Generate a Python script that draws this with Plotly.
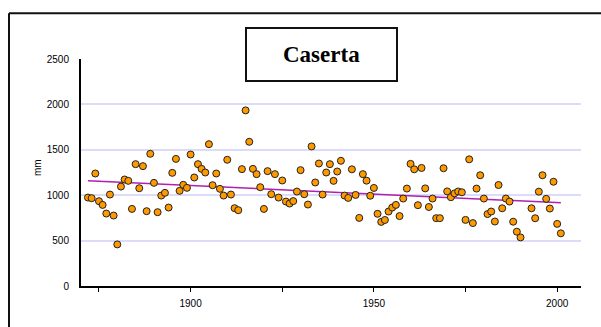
import plotly.graph_objects as go

years = list(range(1872, 1991)) + list(range(1993, 2002))
rain_mm = [
    974, 967, 1239, 934, 893, 798, 1007, 776, 458, 1095,          # 1872-1881
    1173, 1158, 849, 1342, 1077, 1320, 824, 1456, 1136, 813,      # 1882-1891
    996, 1026, 864, 1246, 1400, 1048, 1114, 1081, 1448, 1195,     # 1892-1901
    1342, 1290, 1250, 1562, 1110, 1239, 1070, 996, 1390, 1007,    # 1902-1911
    857, 835, 1287, 1934, 1588, 1290, 1232, 1088, 849, 1265,      # 1912-1921
    1011, 1232, 974, 1162, 930, 908, 935, 1040, 1276, 1011,       # 1922-1931
    897, 1537, 1140, 1349, 1007, 1250, 1342, 1158, 1261, 1379,    # 1932-1941
    996, 970, 1285, 1003, 750, 1232, 1160, 994, 1080, 795,        # 1942-1951
    706, 727, 820, 864, 893, 770, 963, 1073, 1345, 1285,          # 1952-1961
    890, 1300, 1075, 870, 963, 747, 747, 1297, 1042, 978,         # 1962-1971
    1020, 1041, 1032, 728, 1395, 693, 1073, 1220, 963, 792,       # 1972-1981
    820, 710, 1112, 856, 963, 930, 708, 598, 535,                 # 1982-1990
    856, 746, 1039, 1220, 960, 853, 1148, 684, 580,               # 1993-2001
]
trend_years = [1872, 2001]
trend_mm = [1160, 916]

x_tickvals = [1875, 1900, 1925, 1950, 1975, 2000]
x_ticktext = ["", "1900", "", "1950", "", "2000"]
y_tickvals = [0, 500, 1000, 1500, 2000, 2500]
title_text = "Caserta"
y_title = "mm"

fig = go.Figure()
fig.add_trace(go.Scatter(
    x=trend_years, y=trend_mm, mode="lines",
    line=dict(color="#B020B0", width=1.5), hoverinfo="skip", showlegend=False))
fig.add_trace(go.Scatter(
    x=years, y=rain_mm, mode="markers",
    marker=dict(symbol="circle", size=7, color="#FF9900",
                line=dict(color="#222222", width=1)),
    showlegend=False))

font = dict(family="Liberation Sans, Arial, sans-serif", size=10, color="#000000")
frame = dict(color="#111111", width=2)

fig.update_layout(
    width=601, height=327,
    margin=dict(l=81, r=20, t=59, b=41),
    paper_bgcolor="white", plot_bgcolor="white",
    font=font,
    xaxis=dict(range=[1870.1, 2006.5], tickvals=x_tickvals, ticktext=x_ticktext,
               showgrid=False, zeroline=False, showline=True, linecolor="#000000",
               linewidth=2, ticks="outside", ticklen=4, tickwidth=1, tickcolor="#000000",
               ticklabelstandoff=3, tickfont=font),
    yaxis=dict(range=[0, 2500], tickvals=y_tickvals, showgrid=True,
               gridcolor="#DCDCFA", gridwidth=2, zeroline=False,
               showline=True, linecolor="#000000", linewidth=2, ticks="",
               ticklabelstandoff=8, tickfont=font),
    shapes=[
        dict(type="line", xref="paper", yref="paper",
             x0=-0.144, x1=-0.144, y0=-0.6, y1=1.201, line=frame, layer="below"),
        dict(type="line", xref="paper", yref="paper",
             x0=-0.144, x1=1.5, y0=1.201, y1=1.201, line=frame, layer="below"),
        dict(type="rect", xref="paper", yref="paper",
             x0=0.324, x1=0.642, y0=0.96, y1=1.04,
             line=dict(width=0), fillcolor="white", layer="above"),
        dict(type="rect", xref="paper", yref="paper",
             x0=0.33, x1=0.632, y0=0.903, y1=1.137,
             line=dict(color="#111111", width=2), fillcolor="white", layer="above"),
    ],
    annotations=[
        dict(text="<b>" + title_text + "</b>", xref="paper", yref="paper",
             x=0.481, y=1.022, showarrow=False, xanchor="center", yanchor="middle",
             font=dict(family="Liberation Serif, Times New Roman, serif", size=23, color="#000000")),
        dict(text=y_title, xref="paper", yref="paper", x=-0.086, y=0.52,
             textangle=-90, showarrow=False, xanchor="center", yanchor="middle", font=font),
    ],
)

fig.write_html("out.html")
